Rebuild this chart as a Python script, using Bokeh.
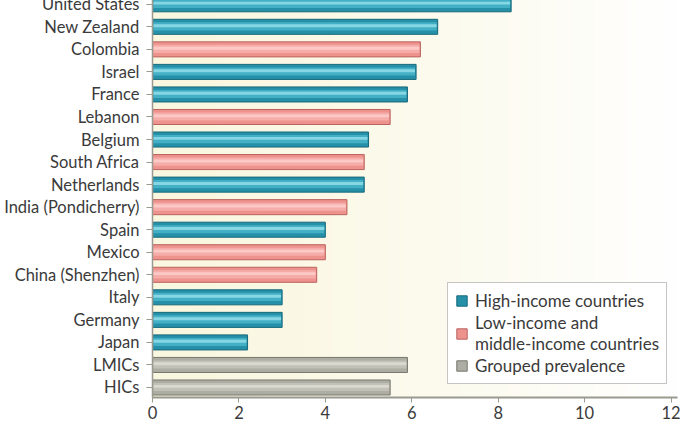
import numpy as np
from bokeh.plotting import figure
from bokeh.models import Range1d, FixedTicker, Legend, LegendItem, ColumnDataSource
from bokeh.embed import file_html
from bokeh.resources import INLINE

countries = ["United States", "New Zealand", "Colombia", "Israel", "France", "Lebanon",
             "Belgium", "South Africa", "Netherlands", "India (Pondicherry)", "Spain",
             "Mexico", "China (Shenzhen)", "Italy", "Germany", "Japan", "LMICs", "HICs"]
values = [8.3, 6.6, 6.2, 6.1, 5.9, 5.5, 5.0, 4.9, 4.9, 4.5, 4.0, 4.0, 3.8, 3.0, 3.0, 2.2, 5.9, 5.5]
groups = ["HIC", "HIC", "LMIC", "HIC", "HIC", "LMIC", "HIC", "LMIC", "HIC", "LMIC", "HIC",
          "LMIC", "LMIC", "HIC", "HIC", "HIC", "Grouped", "Grouped"]
group_keys = ["HIC", "LMIC", "Grouped"]
group_labels = ["High-income countries", "Low-income and\nmiddle-income countries", "Grouped prevalence"]
x_ticks = [0, 2, 4, 6, 8, 10, 12]

FONT = "Lato"
TEXT = "#3a3a3a"
AXIS = "#9a9a90"

# base, edge, band, highlight
palette = {
    "HIC": ("#2690a8", "#16697a", "#43b0c6", "#86d6e4"),
    "LMIC": ("#ee928e", "#b9625e", "#f6aca8", "#fccac6"),
    "Grouped": ("#adada3", "#77776e", "#c1c1b7", "#d9d9d0"),
}

n = len(countries)
ypos = [n - 1 - i for i in range(n)]
x0, x1 = 0, 12.15
y0, y1 = -0.444, 17.70

p = figure(width=685, height=437, output_backend="svg", toolbar_location=None,
           x_range=Range1d(x0, x1), y_range=Range1d(y0, y1),
           min_border_left=152, min_border_right=8, min_border_top=0, min_border_bottom=28)
# the reference is a crop whose top row of text is cut off
p.styles = {"margin-top": "-12px"}

# background gradient (cream to white)
N = 256
t = np.linspace(0, 1, N) ** 1.3
c0 = np.array([250, 247, 224], dtype=float)
c1 = np.array([255, 255, 255], dtype=float)
cols = (c0[None, :] * (1 - t[:, None]) + c1[None, :] * t[:, None]).astype(np.uint8)
img = np.zeros((1, N), dtype=np.uint32)
view = img.view(dtype=np.uint8).reshape((1, N, 4))
view[0, :, 0] = cols[:, 0]
view[0, :, 1] = cols[:, 1]
view[0, :, 2] = cols[:, 2]
view[0, :, 3] = 255
p.image_rgba(image=[img], x=x0, y=y0, dw=x1 - x0, dh=y1 - y0)

bar_h = 0.667
legend_items = []
for key, lab in zip(group_keys, group_labels):
    idx = [i for i, g in enumerate(groups) if g == key]
    src = ColumnDataSource(dict(
        y=[ypos[i] for i in idx],
        v=[values[i] for i in idx],
        vin=[values[i] - 0.025 for i in idx],
        yb=[ypos[i] + 0.02 for i in idx],
        yh=[ypos[i] + 0.05 for i in idx],
    ))
    base, edge, band, hi = palette[key]
    r = p.hbar(y="y", left=0, right="v", height=bar_h, source=src,
               fill_color=base, line_color=edge, line_width=1)
    p.hbar(y="yb", left=0.02, right="vin", height=0.36, source=src,
           fill_color=band, line_color=None)
    p.hbar(y="yh", left=0.02, right="vin", height=0.13, source=src,
           fill_color=hi, line_color=None)
    legend_items.append(LegendItem(label=lab, renderers=[r]))

legend = Legend(items=legend_items, location=(295, 13))
legend.label_text_font = FONT
legend.label_text_font_size = "17px"
legend.label_text_color = TEXT
legend.label_text_line_height = 1.15
legend.glyph_width = 13
legend.glyph_height = 13
legend.label_standoff = 7
legend.padding = 7
legend.spacing = 1
legend.margin = 0
legend.border_line_color = "#8a8a8a"
legend.border_line_width = 1
legend.background_fill_color = "white"
legend.background_fill_alpha = 1
p.add_layout(legend)

p.xgrid.visible = False
p.ygrid.visible = False
p.outline_line_color = None

p.yaxis.ticker = FixedTicker(ticks=ypos)
p.yaxis.major_label_overrides = {y: c for y, c in zip(ypos, countries)}
p.yaxis.axis_line_color = AXIS
p.yaxis.axis_line_width = 1.5
p.yaxis.major_tick_line_color = AXIS
p.yaxis.major_tick_out = 6
p.yaxis.major_tick_in = 0
p.yaxis.minor_tick_line_color = None
p.yaxis.major_label_standoff = 7
p.yaxis.major_label_text_font = FONT
p.yaxis.major_label_text_font_size = "16.5px"
p.yaxis.major_label_text_color = TEXT

p.xaxis.ticker = FixedTicker(ticks=x_ticks)
p.xaxis.axis_line_color = AXIS
p.xaxis.axis_line_width = 2
p.xaxis.major_tick_line_color = AXIS
p.xaxis.major_tick_out = 5
p.xaxis.major_tick_in = 0
p.xaxis.minor_tick_line_color = None
p.xaxis.major_label_standoff = 3
p.xaxis.major_label_text_font = FONT
p.xaxis.major_label_text_font_size = "16.5px"
p.xaxis.major_label_text_color = TEXT

p.background_fill_color = "white"
p.border_fill_color = "white"

open("out.html", "w").write(file_html(p, INLINE))
